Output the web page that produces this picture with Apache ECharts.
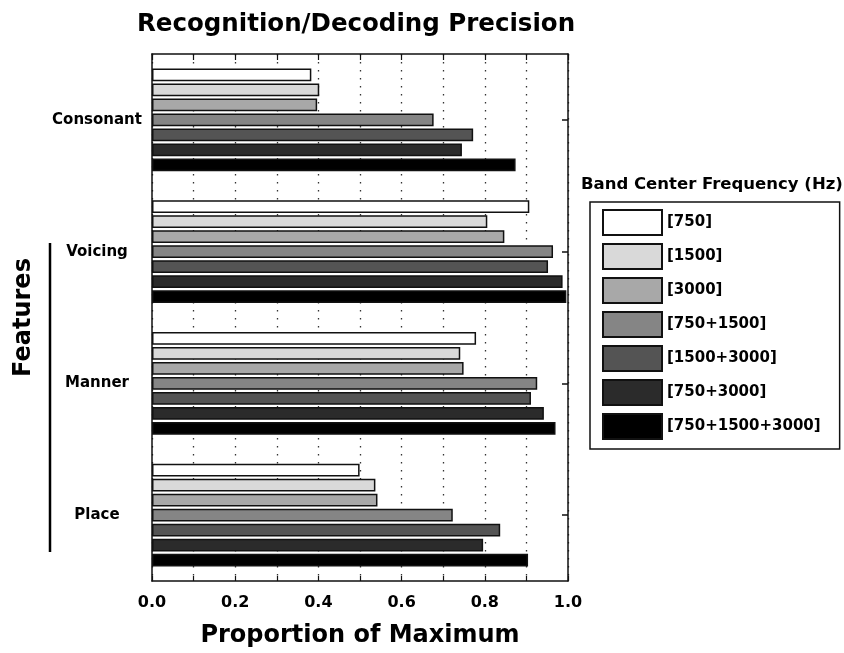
<!DOCTYPE html>
<html>
<head>
<meta charset="utf-8">
<script src="https://cdn.jsdelivr.net/npm/echarts@6/dist/echarts.min.js"></script>
<style>html,body{margin:0;padding:0;background:#fff}#c{width:844px;height:653px}</style>
</head>
<body>
<div id="c"></div>
<script>
const categories = ['Consonant', 'Voicing', 'Manner', 'Place'];
const seriesNames = ['[750]', '[1500]', '[3000]', '[750+1500]', '[1500+3000]', '[750+3000]', '[750+1500+3000]'];
const s750 = [0.383, 0.907, 0.779, 0.499];
const s1500 = [0.402, 0.806, 0.741, 0.537];
const s3000 = [0.397, 0.847, 0.749, 0.542];
const s750_1500 = [0.677, 0.964, 0.926, 0.723];
const s1500_3000 = [0.772, 0.952, 0.911, 0.837];
const s750_3000 = [0.745, 0.987, 0.942, 0.796];
const s750_1500_3000 = [0.874, 0.996, 0.970, 0.904];
const xTicks = [0, 0.2, 0.4, 0.6, 0.8, 1.0];

const seriesValues = [s750, s1500, s3000, s750_1500, s1500_3000, s750_3000, s750_1500_3000];
const colors = ['#ffffff', '#d9d9d9', '#a8a8a8', '#858585', '#545454', '#2b2b2b', '#000000'];
const FONT = 'DejaVu Sans';

const chart = echarts.init(document.getElementById('c'), null, {renderer: 'canvas'});
const option = {
  animation: false,
  backgroundColor: '#ffffff',
  title: [
    {text: 'Recognition/Decoding Precision', left: 137, top: 12, padding: 0,
     textStyle: {fontFamily: FONT, fontWeight: 'bold', fontSize: 24.5, color: '#000'}},
    {text: 'Band Center Frequency (Hz)', left: 581, top: 176, padding: 0,
     textStyle: {fontFamily: FONT, fontWeight: 'bold', fontSize: 16.5, color: '#000'}}
  ],
  legend: {
    orient: 'vertical', left: 590, top: 202,
    padding: [7, 19, 9, 12],
    itemWidth: 59, itemHeight: 25, itemGap: 7,
    borderColor: '#111', borderWidth: 1.5,
    icon: 'rect',
    itemStyle: {borderColor: '#111', borderWidth: 2},
    textStyle: {fontFamily: FONT, fontWeight: 'bold', fontSize: 15, color: '#000', padding: [6, 0, 0, 0]},
    data: seriesNames
  },
  grid: {left: 152, right: 276, top: 54, bottom: 71, containLabel: false},
  xAxis: [
    {type: 'value', position: 'bottom', min: 0, max: 1, interval: 0.1,
     name: 'Proportion of Maximum', nameLocation: 'middle', nameGap: 43,
     nameTextStyle: {fontFamily: FONT, fontWeight: 'bold', fontSize: 24, color: '#000'},
     axisLine: {show: true, onZero: false, lineStyle: {color: '#111', width: 1.5}},
     axisTick: {show: true, inside: true, length: 5, lineStyle: {color: '#111', width: 1.2}},
     axisLabel: {fontFamily: FONT, fontWeight: 'bold', fontSize: 16, color: '#000', margin: 14,
       formatter: function (v) {
         for (const t of xTicks) { if (Math.abs(t - v) < 1e-6) return t.toFixed(1); }
         return '';
       }},
     splitLine: {show: true, lineStyle: {color: '#333', width: 1.3, type: [1.5, 6.5]}}
    },
    {type: 'value', position: 'top', min: 0, max: 1, interval: 0.1,
     axisLine: {show: true, onZero: false, lineStyle: {color: '#111', width: 1.5}},
     axisTick: {show: true, inside: true, length: 6, lineStyle: {color: '#111', width: 1.2}},
     axisLabel: {show: false}, splitLine: {show: false}}
  ],
  yAxis: [
    {type: 'category', data: categories, inverse: true, position: 'left',
     name: 'Features', nameLocation: 'middle', nameRotate: 90, nameGap: 116,
     nameTextStyle: {fontFamily: FONT, fontWeight: 'bold', fontSize: 24, color: '#000'},
     axisLine: {show: true, onZero: false, lineStyle: {color: '#111', width: 1.5}},
     axisTick: {show: false},
     axisLabel: {fontFamily: FONT, fontWeight: 'bold', fontSize: 15, color: '#000', align: 'center', margin: 55}},
    {type: 'category', data: categories, inverse: true, position: 'right',
     axisLine: {show: true, onZero: false, lineStyle: {color: '#111', width: 1.5}},
     axisTick: {show: true, inside: true, alignWithLabel: true, length: 6, lineStyle: {color: '#111', width: 1.5}},
     axisLabel: {show: false}}
  ],
  graphic: [
    {type: 'line', shape: {x1: 50, y1: 243, x2: 50, y2: 552}, style: {stroke: '#000', lineWidth: 2.5}}
  ],
  series: seriesNames.map((n, i) => ({
    name: n, type: 'bar', xAxisIndex: 0, yAxisIndex: 0,
    data: seriesValues[i],
    barCategoryGap: '22%', barGap: '18%',
    itemStyle: {color: colors[i], borderColor: '#111', borderWidth: 1.5},
    emphasis: {disabled: true}
  }))
};
chart.setOption(option);
</script>
</body>
</html>
